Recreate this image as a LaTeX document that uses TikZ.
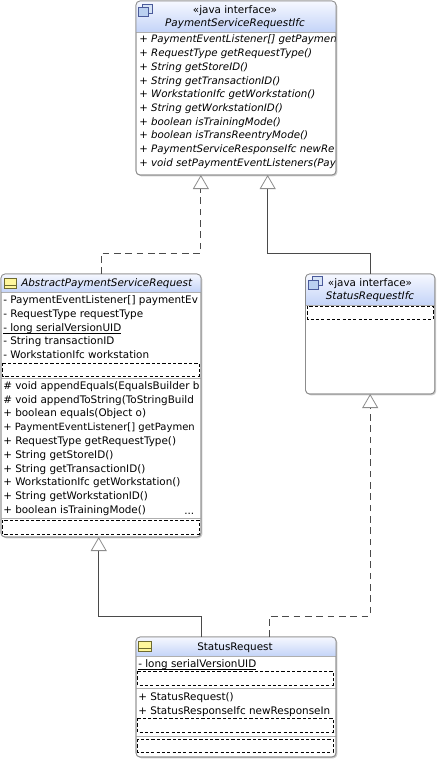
\documentclass[tikz,border=0pt]{standalone}
\usepackage{fontspec}
\setmainfont{DejaVu Sans}
\usetikzlibrary{arrows.meta,shadows}
\definecolor{framegray}{HTML}{8C8C8C}
\definecolor{wiregray}{HTML}{4A4A4A}
\definecolor{headtop}{HTML}{F6F8FF}
\definecolor{headbot}{HTML}{C4D4F8}
\definecolor{iconblue}{HTML}{BBD0F0}
\definecolor{iconedge}{HTML}{4A5A9A}
\definecolor{iconyellow}{HTML}{FFF79C}
\definecolor{iconline}{HTML}{6E6A30}
\newcommand{\staticrow}[1]{\setbox0\hbox{#1}\rlap{\rule[-1.1pt]{\wd0}{0.5pt}}\box0}
\begin{document}
\begin{tikzpicture}[
        x=0.75pt, y=-0.75pt,
        umlbox/.style={draw=framegray, fill=white, rounded corners=3pt, anchor=north west, inner sep=0pt, outer sep=0pt,
            drop shadow={shadow xshift=1pt, shadow yshift=-1pt, opacity=0.2, fill=black}},
        frame/.style={draw=framegray, rounded corners=3pt, line width=0.6pt},
        headfill/.style={top color=headtop, bottom color=headbot},
        rowtext/.style={font=\fontsize{7.8}{9}\selectfont, anchor=base west, inner sep=0pt, yshift=-2.8pt},
        irowtext/.style={rowtext, font=\fontsize{7.7}{9}\itshape\selectfont},
        titletext/.style={font=\fontsize{7.8}{9}\selectfont, inner sep=0pt},
        ititletext/.style={titletext, font=\fontsize{7.8}{9}\itshape\selectfont},
        sepline/.style={draw=framegray!70, line width=0.6pt},
        emptyrow/.style={draw=black, line width=0.6pt, dash pattern=on 2.4pt off 1.6pt},
        gentip/.style={-{Triangle[open, length=10.5pt, width=12pt, color=framegray, line width=0.6pt]}},
        realize/.style={draw=wiregray, line width=0.6pt, dash pattern=on 5pt off 3.5pt, gentip},
        extend/.style={draw=wiregray, line width=0.6pt, gentip},
        ifaceback/.style={draw=iconedge, fill=iconblue!60, line width=0.6pt},
        ifacefront/.style={draw=iconedge, fill=iconblue, line width=0.6pt},
        classicon/.style={draw=iconline, fill=iconyellow, line width=0.6pt}
    ]
    \useasboundingbox (0,0) rectangle (439,761);

    % Boxes
    \node[umlbox, minimum width=150pt, minimum height=130.5pt] (psr) at (136,1) {};
    \node[umlbox, minimum width=150pt, minimum height=197.25pt] (aps) at (1,274) {};
    \node[umlbox, minimum width=97pt, minimum height=90pt] (sri) at (305.5,274) {};
    \node[umlbox, minimum width=150pt, minimum height=90pt] (srq) at (136,637) {};

    % PaymentServiceRequestIfc
    \begin{scope}
        \clip[rounded corners=3pt] (psr.north west) rectangle (psr.south east);
        \shade[headfill] (psr.north west) rectangle (336,32);
        \draw[sepline] (136,32) -- (336,32);
    \end{scope}
    \foreach \y/\row [count=\i] in {
        39/{+ PaymentEventListener[] getPaymen},
        53/{+ RequestType getRequestType()},
        67/{+ String getStoreID()},
        80.5/{+ String getTransactionID()},
        94/{+ WorkstationIfc getWorkstation()},
        108/{+ String getWorkstationID()},
        122/{+ boolean isTrainingMode()},
        135/{+ boolean isTransReentryMode()},
        149/{+ PaymentServiceResponseIfc newRe},
        163/{+ void setPaymentEventListeners(Pay}} {
        \node[irowtext] (psrrow\i) at (139,\y) {\row};
    }
    \draw[frame] (psr.north west) rectangle (psr.south east);
    \node[titletext] (psrstereo) at (235,11) {«java interface»};
    \node[ititletext] (psrname) at (235,24) {PaymentServiceRequestIfc};
    \draw[ifaceback] (142,4) rectangle (152,13);
    \draw[ifacefront] (138,7.5) rectangle (148,16);

    % AbstractPaymentServiceRequest
    \begin{scope}
        \clip[rounded corners=3pt] (aps.north west) rectangle (aps.south east);
        \shade[headfill] (aps.north west) rectangle (201,292);
        \draw[sepline] (1,292) -- (201,292);
        \draw[emptyrow] (2.5,363) rectangle (199,376);
        \draw[sepline] (1,378) -- (201,378);
        \draw[sepline] (1,518) -- (201,518);
        \draw[emptyrow] (2.5,520) rectangle (199,534);
    \end{scope}
    \foreach \y/\row [count=\i] in {
        300/{- PaymentEventListener[] paymentEv},
        314/{- RequestType requestType},
        328/{\staticrow{- long serialVersionUID}},
        341/{- String transactionID},
        355/{- WorkstationIfc workstation},
        386/{\# void appendEquals(EqualsBuilder b},
        400/{\# void appendToString(ToStringBuild},
        413/{+ boolean equals(Object o)},
        427/{\fontsize{7.5}{9}\selectfont + PaymentEventListener[] getPaymen},
        441/{+ RequestType getRequestType()},
        455/{+ String getStoreID()},
        469/{+ String getTransactionID()},
        482/{+ WorkstationIfc getWorkstation()},
        496/{+ String getWorkstationID()},
        510/{+ boolean isTrainingMode()}} {
        \node[rowtext] (apsrow\i) at (3,\y) {\row};
    }
    \draw[frame] (aps.north west) rectangle (aps.south east);
    \node[rowtext] (apsmore) at (184,511) {...};
    \node[ititletext, anchor=west] (apsname) at (21,284) {AbstractPaymentServiceRequest};
    \draw[classicon] (4,278) rectangle (16.5,288);
    \draw[iconline, line width=0.6pt] (4,285) -- (16.5,285);

    % StatusRequestIfc
    \begin{scope}
        \clip[rounded corners=3pt] (sri.north west) rectangle (sri.south east);
        \shade[headfill] (sri.north west) rectangle (435,305);
        \draw[sepline] (305.5,305) -- (435,305);
        \draw[emptyrow] (307.5,306) rectangle (433,319);
    \end{scope}
    \draw[frame] (sri.north west) rectangle (sri.south east);
    \node[titletext] (sristereo) at (370,284) {«java interface»};
    \node[ititletext] (sriname) at (370,297) {StatusRequestIfc};
    \draw[ifaceback] (312,276) rectangle (322,285);
    \draw[ifacefront] (308,280) rectangle (318,289);

    % StatusRequest
    \begin{scope}
        \clip[rounded corners=3pt] (srq.north west) rectangle (srq.south east);
        \shade[headfill] (srq.north west) rectangle (336,656);
        \draw[sepline] (136,656) -- (336,656);
        \draw[emptyrow] (137.5,671) rectangle (333,685);
        \draw[sepline] (136,688) -- (336,688);
        \draw[emptyrow] (137.5,718) rectangle (333,732);
        \draw[sepline] (136,736) -- (336,736);
        \draw[emptyrow] (137.5,739) rectangle (333,752);
    \end{scope}
    \foreach \y/\row [count=\i] in {
        664/{\staticrow{- long serialVersionUID}},
        697/{+ StatusRequest()},
        711/{+ StatusResponseIfc newResponseIn}} {
        \node[rowtext] (srqrow\i) at (138,\y) {\row};
    }
    \draw[frame] (srq.north west) rectangle (srq.south east);
    \node[titletext] (srqname) at (235,648) {StatusRequest};
    \draw[classicon] (138.5,641) rectangle (151.5,651);
    \draw[iconline, line width=0.6pt] (138.5,648) -- (151.5,648);

    % Connectors
    \draw[realize] (aps.90.87) -- ++(0,-21) -| (psr.248.08);
    \draw[extend] (sri.north) -- ++(0,-21) -| (psr.290.2);
    \draw[realize] (srq.61.93) -- ++(0,-21) -| (sri.south);
    \draw[extend] (srq.120.26) -- ++(0,-21) -| (aps.269.13);
\end{tikzpicture}
\end{document}
